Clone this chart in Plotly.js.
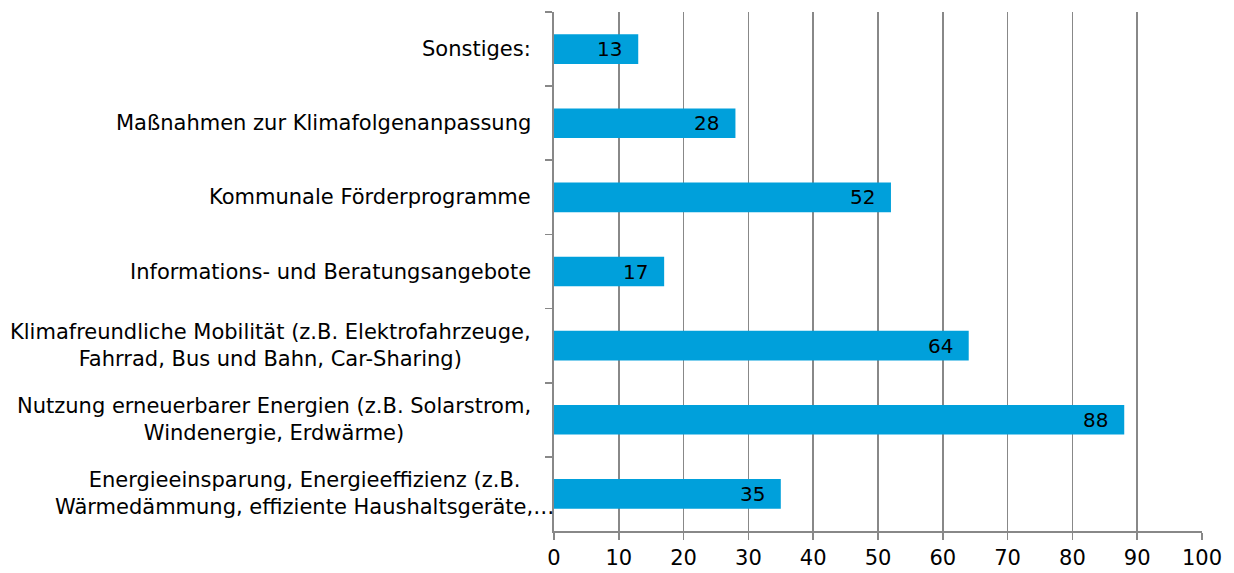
<!DOCTYPE html>
<html><head><meta charset="utf-8">
<script src="https://cdn.plot.ly/plotly-3.0.1.min.js"></script>
<style>html,body{margin:0;padding:0;background:#fff;}#chart{width:1234px;height:573px;}</style>
</head><body><div id="chart"></div>
<script>
const categories = [
  "Sonstiges:",
  "Maßnahmen zur Klimafolgenanpassung",
  "Kommunale Förderprogramme",
  "Informations- und Beratungsangebote",
  "Klimafreundliche Mobilität (z.B. Elektrofahrzeuge,<br>Fahrrad, Bus und Bahn, Car-Sharing)",
  "Nutzung erneuerbarer Energien (z.B. Solarstrom,<br>Windenergie, Erdwärme)",
  "Energieeinsparung, Energieeffizienz (z.B.<br>Wärmedämmung, effiziente Haushaltsgeräte,…"
];
const values = [13, 28, 52, 17, 64, 88, 35];
const xTicks = [0,10,20,30,40,50,60,70,80,90,100];

const FONT = "'DejaVu Sans', sans-serif";
const GRID = "#888888";

const annotations = [];
categories.forEach((c, i) => {
  const last = i === categories.length - 1;
  annotations.push({
    xref: "paper", yref: "y", x: 0, y: c, xanchor: "right", yanchor: "middle",
    xshift: last ? 2 : -21, align: "center", showarrow: false, text: c,
    font: {family: FONT, size: 21, color: "#000"}
  });
  annotations.push({
    xref: "x", yref: "y", x: values[i], y: c, xanchor: "right", yanchor: "middle",
    xshift: -14, showarrow: false, text: String(values[i]),
    font: {family: FONT, size: 20, color: "#000"}
  });
});

Plotly.newPlot("chart", [{
  type: "bar", orientation: "h", x: values, y: categories,
  marker: {color: "#00A0DB"}, hoverinfo: "none"
}], {
  width: 1234, height: 573,
  margin: {l: 554, r: 32, t: 12, b: 42},
  paper_bgcolor: "#fff", plot_bgcolor: "#fff",
  bargap: 0.6, showlegend: false,
  font: {family: FONT, color: "#000"},
  xaxis: {
    range: [0, 100], tickvals: xTicks, ticktext: xTicks.map(String),
    showgrid: true, gridcolor: GRID, gridwidth: 1.6,
    showline: true, linecolor: GRID, linewidth: 1.6,
    ticks: "outside", ticklen: 7, tickcolor: GRID, tickwidth: 1.6,
    tickfont: {family: FONT, size: 21, color: "#000"},
    zeroline: false, fixedrange: true
  },
  yaxis: {
    type: "category", autorange: "reversed",
    showticklabels: false, showgrid: false, zeroline: false,
    showline: true, linecolor: GRID, linewidth: 1.6,
    ticks: "outside", tickson: "boundaries", ticklen: 7, tickcolor: GRID, tickwidth: 1.6,
    fixedrange: true
  },
  annotations: annotations
}, {displayModeBar: false, staticPlot: true});
</script></body></html>
